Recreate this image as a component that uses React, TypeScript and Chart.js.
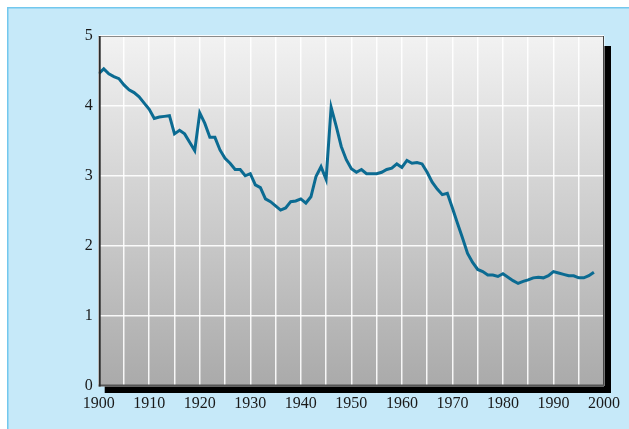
import React, { useEffect, useRef } from "react";
import { Chart, registerables } from "chart.js";

Chart.register(...registerables);

const years: number[] = [];
for (let y = 1900; y <= 1998; y++) years.push(y);

const values: number[] = [
  4.46, 4.53, 4.46, 4.42, 4.39, 4.30, 4.23, 4.19, 4.13, 4.04,
  3.95, 3.82, 3.84, 3.85, 3.86, 3.60, 3.65, 3.60, 3.48, 3.36,
  3.90, 3.75, 3.55, 3.55, 3.37, 3.25, 3.18, 3.09, 3.09, 3.00,
  3.03, 2.87, 2.83, 2.67, 2.63, 2.57, 2.51, 2.54, 2.63, 2.64,
  2.67, 2.61, 2.70, 2.99, 3.13, 2.95, 3.98, 3.71, 3.42, 3.23,
  3.10, 3.05, 3.09, 3.03, 3.03, 3.03, 3.05, 3.09, 3.11, 3.17,
  3.12, 3.22, 3.18, 3.19, 3.17, 3.05, 2.91, 2.81, 2.73, 2.75,
  2.54, 2.32, 2.11, 1.89, 1.76, 1.66, 1.63, 1.58, 1.58, 1.56,
  1.60, 1.55, 1.50, 1.46, 1.49, 1.51, 1.54, 1.55, 1.54, 1.57,
  1.63, 1.61, 1.59, 1.57, 1.57, 1.54, 1.54, 1.57, 1.62,
];

const xMin = 1900;
const xMax = 2000;
const yMin = 0;
const yMax = 5;

const panelPlugin = {
  id: "panelPlugin",
  beforeDraw(chart: any) {
    const { ctx, chartArea, width, height } = chart;
    const { left, right, top, bottom } = chartArea;
    ctx.save();
    ctx.fillStyle = "#c6e9f9";
    ctx.fillRect(0, 0, width, height);
    ctx.fillStyle = "#72c8ee";
    ctx.fillRect(0, 0, width, 1.5);
    ctx.fillRect(0, 0, 1.5, height);
    // shadow
    ctx.fillStyle = "#000000";
    ctx.fillRect(left + 6, top + 10, right - left + 1, bottom - top - 2.5);
    // plot gradient
    const g = ctx.createLinearGradient(0, top, 0, bottom);
    g.addColorStop(0, "#f2f2f2");
    g.addColorStop(1, "#aaaaaa");
    ctx.fillStyle = g;
    ctx.fillRect(left, top, right - left, bottom - top);
    ctx.restore();
  },
  afterDatasetsDraw(chart: any) {
    const { ctx, chartArea } = chart;
    const { left, right, top, bottom } = chartArea;
    ctx.save();
    ctx.strokeStyle = "#8a8a8a";
    ctx.lineWidth = 1;
    ctx.beginPath();
    ctx.moveTo(left, top + 0.5);
    ctx.lineTo(right, top + 0.5);
    ctx.stroke();
    ctx.strokeStyle = "#444444";
    ctx.beginPath();
    ctx.moveTo(right - 0.5, top);
    ctx.lineTo(right - 0.5, bottom);
    ctx.stroke();
    ctx.strokeStyle = "#555555";
    ctx.lineWidth = 2;
    ctx.beginPath();
    ctx.moveTo(left, bottom);
    ctx.lineTo(right, bottom);
    ctx.stroke();
    ctx.strokeStyle = "#2a2a2a";
    ctx.beginPath();
    ctx.moveTo(left + 1, top);
    ctx.lineTo(left + 1, bottom + 1);
    ctx.stroke();
    ctx.restore();
  },
};

export default function App() {
  const ref = useRef<HTMLCanvasElement | null>(null);
  useEffect(() => {
    if (!ref.current) return;
    const chart = new Chart(ref.current, {
      type: "line",
      data: {
        datasets: [
          {
            data: years.map((y, i) => ({ x: y, y: values[i] })),
            borderColor: "#0b6b92",
            borderWidth: 3,
            pointRadius: 0,
            tension: 0,
            fill: false,
          },
        ],
      },
      options: {
        animation: false,
        responsive: false,
        maintainAspectRatio: false,
        layout: { padding: { left: 0, top: 29, right: 18, bottom: 0 } },
        plugins: { legend: { display: false }, tooltip: { enabled: false } },
        scales: {
          x: {
            type: "linear",
            min: xMin,
            max: xMax,
            border: { display: false },
            grid: { color: "rgba(255,255,255,0.9)", lineWidth: 1.5, drawTicks: false },
            afterFit(scale: any) {
              scale.height = 43.5;
            },
            ticks: {
              stepSize: 5,
              autoSkip: false,
              maxRotation: 0,
              padding: 9,
              color: "#1a1a1a",
              font: { family: "'Liberation Serif', 'Times New Roman', serif", size: 16 },
              callback: (v: any) => (Number(v) % 10 === 0 ? String(v) : ""),
            },
          },
          y: {
            min: yMin,
            max: yMax,
            border: { display: false },
            grid: { color: "rgba(255,255,255,0.9)", lineWidth: 1.5, drawTicks: false },
            afterFit(scale: any) {
              scale.width = 91.7;
            },
            ticks: {
              stepSize: 1,
              padding: 6,
              color: "#1a1a1a",
              font: { family: "'Liberation Serif', 'Times New Roman', serif", size: 16 },
            },
          },
        },
      },
      plugins: [panelPlugin],
    });
    return () => chart.destroy();
  }, []);
  return (
    <div style={{ position: "absolute", left: 7, top: 7, width: 622, height: 422 }}>
      <canvas ref={ref} width={622} height={422} style={{ width: 622, height: 422 }} />
    </div>
  );
}
